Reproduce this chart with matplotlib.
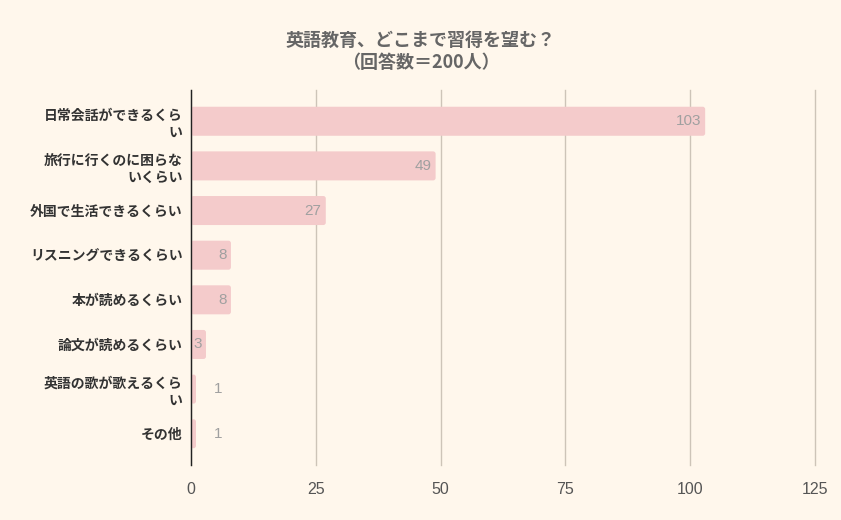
import matplotlib
matplotlib.use('Agg')
import matplotlib.pyplot as plt
from matplotlib.patches import FancyBboxPatch

plt.rcParams['font.family'] = ['Noto Sans CJK JP', 'DejaVu Sans']

# data
labels = ['日常会話ができるくら\nい', '旅行に行くのに困らな\nいくらい', '外国で生活できるくらい',
          'リスニングできるくらい', '本が読めるくらい', '論文が読めるくらい',
          '英語の歌が歌えるくら\nい', 'その他']
counts = [103, 49, 27, 8, 8, 3, 1, 1]
xticks = [0, 25, 50, 75, 100, 125]

bg = '#fff7ec'
bar_color = '#f4cbcb'

fig = plt.figure(figsize=(8.41, 5.2), dpi=100, facecolor=bg)
ax = fig.add_axes([191/841, 1-465/520, 624/841, 375/520], facecolor=bg)

n = len(labels)
ys = list(range(n))
bar_h = 0.65
# rounded corners: 1 x unit ~ 5px, 1 y unit ~ 44.7px
aspect = 5.0 / 44.7
for y, v in zip(ys, counts):
    p = FancyBboxPatch((0, y - bar_h/2), v, bar_h,
                       boxstyle='round,pad=0,rounding_size=0.5',
                       mutation_aspect=aspect,
                       facecolor=bar_color, edgecolor='none', zorder=2)
    ax.add_patch(p)
    if v >= 2:
        ax.annotate(str(v), (v, y), xytext=(-3, 0), textcoords='offset points',
                    ha='right', va='center', color='#a0a0a0', fontsize=11,
                    family='Liberation Sans', zorder=3)
    else:
        ax.annotate(str(v), (v, y), xytext=(13, 0), textcoords='offset points',
                    ha='left', va='center', color='#a0a0a0', fontsize=11,
                    family='Liberation Sans', zorder=3)

ax.set_xlim(0, 125)
ax.set_ylim(n - 0.3, -0.7)
ax.set_xticks(xticks)
ax.set_xticklabels([str(t) for t in xticks], color='#555555', fontsize=11.5,
                   family='Liberation Sans')
ax.set_yticks(ys)
ax.set_yticklabels(labels, fontsize=10, fontweight='bold', color='#333333',
                   linespacing=1.3)
ax.tick_params(axis='both', length=0)
ax.tick_params(axis='x', pad=12)
ax.tick_params(axis='y', pad=6)

ax.grid(axis='x', color='#cdc4b8', linewidth=1, zorder=0)
for gl in ax.get_xgridlines():
    gl.set_clip_on(False)
for s in ['top', 'right', 'bottom']:
    ax.spines[s].set_visible(False)
ax.spines['left'].set_color('#222222')
ax.spines['left'].set_linewidth(1)
ax.spines['left'].set_zorder(4)

fig.text(0.5, 1 - 51/520, '英語教育、どこまで習得を望む？\n（回答数＝200人）',
         ha='center', va='center', fontsize=13, fontweight='bold',
         color='#666666', linespacing=1.2)

fig.savefig('out.png', dpi=100, facecolor=bg)
